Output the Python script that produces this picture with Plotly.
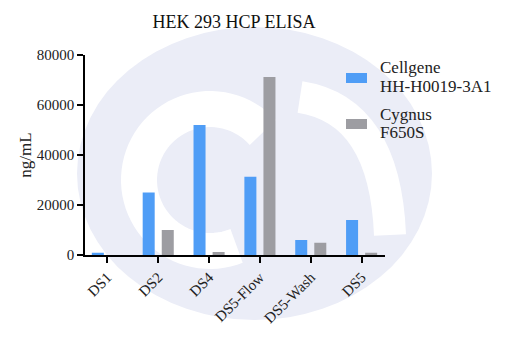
import numpy as np
import plotly.graph_objects as go

categories = ["DS1", "DS2", "DS4", "DS5-Flow", "DS5-Wash", "DS5"]
cellgene = [900, 25000, 52000, 31300, 6000, 14000]
cygnus = [0, 10000, 1200, 71200, 4900, 900]
series_names = ["Cellgene", "Cygnus"]
series_sub = ["HH-H0019-3A1", "F650S"]
colors = ["#4F9DF6", "#9D9DA2"]
y_ticks = [0, 20000, 40000, 60000, 80000]

W, H = 506, 337
L, R, T, B = 85, 121, 55, 82
PW, PH = W - L - R, H - T - B

def px(x):
    return (x - L) / PW

def py(y):
    return (H - B - y) / PH

FONT = "Liberation Serif"

fig = go.Figure()
fig.add_trace(go.Bar(x=categories, y=cellgene, name=series_names[0],
                     marker=dict(color=colors[0], line=dict(width=0))))
fig.add_trace(go.Bar(x=categories, y=cygnus, name=series_names[1],
                     marker=dict(color=colors[1], line=dict(width=0))))

# faint watermark
shapes = []
shapes.append(dict(type="circle", xref="paper", yref="paper", layer="below",
                   x0=px(77), x1=px(432), y0=py(320), y1=py(27),
                   fillcolor="#EBEDF7", line=dict(width=0)))
cx, cy, r = 210, 180, 71
th = np.radians(np.linspace(68, 318, 60))
pts = [(px(cx + r * np.cos(t)), py(cy + r * np.sin(t))) for t in th]
path = "M" + " L".join(f"{a:.4f},{b:.4f}" for a, b in pts)
shapes.append(dict(type="path", xref="paper", yref="paper", layer="below",
                   path=path, line=dict(color="white", width=36)))
tail = f"M{px(300):.4f},{py(97):.4f} Q{px(385):.4f},{py(110):.4f} {px(390):.4f},{py(235):.4f}"
shapes.append(dict(type="path", xref="paper", yref="paper", layer="below",
                   path=tail, line=dict(color="white", width=32)))

# legend (custom, to match the wide swatches)
annotations = []
leg_y = [78, 124]
for i in range(2):
    shapes.append(dict(type="rect", xref="paper", yref="paper",
                       x0=px(346), x1=px(367), y0=py(leg_y[i] + 5), y1=py(leg_y[i] - 5),
                       fillcolor=colors[i], line=dict(width=0)))
    annotations.append(dict(xref="paper", yref="paper", x=px(378), y=py(leg_y[i] - 10),
                            xanchor="left", yanchor="middle", showarrow=False,
                            text=series_names[i], font=dict(family=FONT, size=17, color="#222")))
    annotations.append(dict(xref="paper", yref="paper", x=px(378), y=py(leg_y[i] + 8),
                            xanchor="left", yanchor="middle", showarrow=False,
                            text=series_sub[i], font=dict(family=FONT, size=17, color="#222")))

fig.update_layout(
    width=W, height=H, autosize=False,
    margin=dict(l=L, r=R, t=T, b=B),
    paper_bgcolor="white", plot_bgcolor="rgba(0,0,0,0)",
    font=dict(family=FONT, size=15, color="#222"),
    title=dict(text="HEK 293 HCP ELISA", x=234 / W, xanchor="center",
               y=1 - 22 / H, yanchor="middle",
               font=dict(family=FONT, size=18, color="#111")),
    barmode="group", bargap=0.25, bargroupgap=0.37,
    showlegend=False,
    shapes=shapes, annotations=annotations,
)
fig.update_xaxes(type="category", range=[-0.44, 5.46], showgrid=False,
                 showline=True, linecolor="black", linewidth=1.5,
                 ticks="outside", ticklen=6, tickwidth=1.5, tickcolor="black",
                 tickangle=-45, tickfont=dict(family=FONT, size=15, color="#222"))
fig.update_yaxes(range=[0, 80000], showgrid=False, zeroline=False,
                 showline=True, linecolor="black", linewidth=1.5,
                 ticks="outside", ticklen=6, tickwidth=1.5, tickcolor="black",
                 tickvals=y_ticks, ticktext=[str(v) for v in y_ticks],
                 tickfont=dict(family=FONT, size=15, color="#222"),
                 title=dict(text="ng/mL", font=dict(family=FONT, size=17, color="#222"), standoff=1))

fig.write_html("out.html")
